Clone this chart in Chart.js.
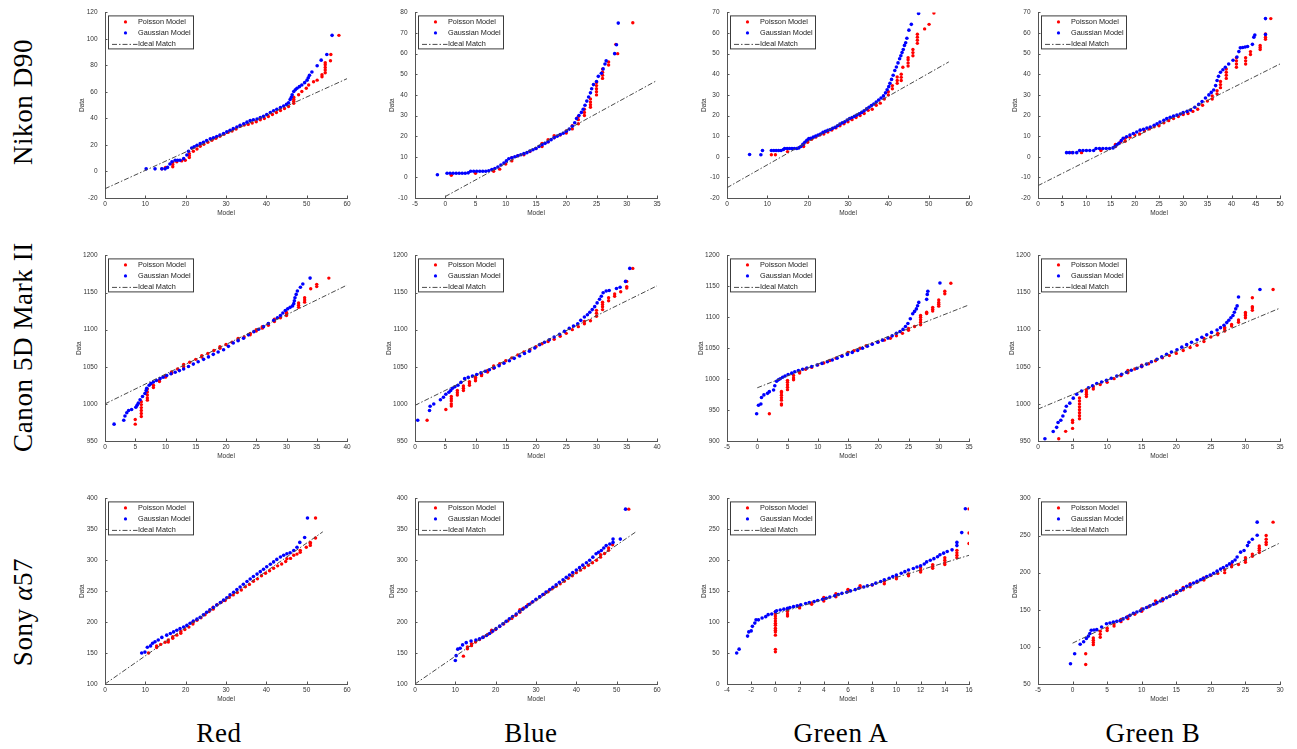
<!DOCTYPE html>
<html>
<head>
<meta charset="utf-8">
<script src="https://cdn.jsdelivr.net/npm/chart.js@4.4.1/dist/chart.umd.min.js"></script>
<style>
  body { margin: 0; background: #fff; width: 1297px; height: 749px; position: relative; overflow: hidden; }
  canvas { position: absolute; }
  .lab { position: absolute; font-family: "Liberation Serif", "Times New Roman", serif; font-size: 27px;
         letter-spacing: 0.6px; white-space: nowrap; color: #000; transform: translate(-50%, -50%); }
  .rot { transform: translate(-50%, -50%) rotate(-90deg); }
</style>
</head>
<body>
<script>
// ---- data: flat [x, y, x, y, ...] lists ----

// Nikon D90
const nikonRedPoisson = [14.1,2, 15,3, 16.8,3.6, 16.8,5.2, 16.8,6.8, 17.8,7.3, 19,8, 19.9,8.5, 20.9,10.5, 20.9,12, 20.9,13.5, 21.9,15.3, 22.8,17, 23.6,19, 24.5,20.5, 25.5,22, 26.5,23.5, 27.5,25, 28.5,26.5, 29.5,28, 30.5,29.5, 31.5,30.5, 32.5,32, 33.5,34, 34.5,35, 35.5,35.5, 36.5,36.5, 37.5,37.5, 38.5,39, 39.5,40, 40.5,41.5, 41.5,43, 42.5,44.5, 43.5,46, 44.5,47.5, 45.5,49, 46.8,51.5, 46.8,53, 46.8,54.5, 46.8,56, 48,57.9, 48.8,60.3, 49.9,62.8, 50.5,65.2, 51.7,67.7, 52.6,68.9, 53.8,71.5, 53.8,73, 54.6,74.5, 54.6,76.5, 54.6,78.5, 54.6,80.5, 54.6,82, 55.9,83.5, 56,88.3, 58,102.7];
const nikonRedGaussian = [10.2,2, 12.4,2, 14.1,2, 14.9,2, 15.5,3.1, 16.1,5.6, 16.6,7.3, 17.4,8.5, 18,8.5, 18.6,8.5, 19.5,9.7, 20.3,12.4, 20.7,15.3, 21.5,17.7, 22.1,18.6, 22.8,19.7, 23.6,21, 24.4,22.1, 25.2,23.4, 26.1,24.6, 26.9,25.5, 27.7,26.3, 28.5,27.5, 29.4,28.7, 30.2,29.9, 31,31.1, 31.8,32.3, 32.7,33.6, 33.5,34.8, 34.4,36, 35.2,37.2, 36,38.4, 36.8,39, 37.7,39.6, 38.5,40.6, 39.3,41.6, 40.1,43, 41,44.5, 41.8,45.8, 42.6,47, 43.5,48.2, 44.3,49.4, 45,50.6, 45.5,51.8, 45.9,54.3, 46.2,56, 46.4,57.9, 46.8,60.3, 47.2,61.6, 47.6,62.8, 48.2,64, 48.8,65.2, 49.5,67, 50.1,68.9, 50.4,70.7, 50.7,72.5, 51.3,75, 52.6,79.8, 53.6,84, 55,88.3, 56.3,102.7];
const nikonRedIdeal = [0,-13, 60,70];

const nikonBluePoisson = [1,1, 5,2, 8,3, 9,4, 10,6.5, 11,8, 11,9.5, 12,10.5, 13,11, 14,12.5, 15,14, 16,15, 16,16.5, 17,17.2, 17,18.3, 18,19.2, 18,20.2, 19,20.5, 20,21.5, 20,22.5, 21,23.5, 21,25, 22,26, 22,28, 22,29.5, 23,30, 23,31.5, 23,33, 24,34, 24,35.2, 24,36.5, 24,38, 25,40, 25,41.5, 25,43, 25,44.5, 25,46, 26,48, 26,49.5, 26,51, 26,52.5, 27,54.5, 27,56, 28.5,60, 28.2,64.5, 31,75];
const nikonBlueGaussian = [-1.3,1.3, 0.3,2, 0.8,2, 1.3,2, 1.8,2, 2.3,2, 2.8,2, 3.3,2, 3.8,2.2, 4.2,3, 4.7,3, 5.2,3, 5.7,3, 6.2,3, 6.7,3, 7.2,3.2, 7.7,3.8, 8.2,4.3, 8.7,5, 9.2,6, 9.7,7, 10.1,8, 10.5,9, 11,9.5, 11.5,10, 12,10.5, 12.5,11, 13,11.5, 13.5,12, 14,12.8, 14.5,13.4, 15,14, 15.5,15, 16,15.8, 16.5,16.5, 17,17.3, 17.5,18.3, 18,19.3, 18.5,20, 19,20.8, 19.5,21.4, 20,22.4, 20.5,23.4, 21,24.8, 21.4,26.5, 21.7,28.5, 22.1,30, 22.5,31.5, 22.8,33, 23.1,35, 23.4,37, 23.7,39, 24,41, 24.2,43, 24.5,45, 25,46.5, 25.3,49, 25.8,50.5, 26.1,52.6, 26.4,55, 26.6,56.5, 28,60, 28.3,64.3, 28.6,74.8];
const nikonBlueIdeal = [0,-9.3, 35,47];

const nikonGreenAPoisson = [11,1, 12,1, 15,2.5, 19,5, 19,6, 20,7, 20,8, 21,8.5, 22,9.5, 23,10.5, 24,11, 25,12, 26,13, 27,14, 28,15, 29,16, 30,17, 31,18, 32,19, 33,20, 34,21, 35,22.5, 36,23, 37,25, 38,26, 39,28, 40,30, 40,31.5, 41,33, 41,34.5, 42.2,35.6, 42.2,37, 42.2,38.7, 43.2,37, 43.2,38.5, 43.2,40, 43.6,43.4, 44.9,44, 44.9,45.5, 44.9,47, 44.9,48, 46.1,49, 46.1,50.5, 46.1,52, 47.2,55, 47.2,56.5, 47.2,58, 47.2,59.4, 49,62, 50.1,64.2, 51.3,69.7];
const nikonGreenAGaussian = [5.6,1.1, 8.4,1, 8.8,3, 11,3, 11.6,3, 12.2,3, 12.8,3, 13.4,3, 14,3.5, 14.3,4, 14.9,4, 15.5,4, 16.1,4, 16.7,4, 17.3,4, 17.8,4.3, 18.3,5, 18.8,6, 19.3,7, 19.8,8, 20.3,8.8, 20.8,9, 21.4,9.5, 22,10, 22.6,10.5, 23.2,11, 23.8,11.8, 24.4,12.3, 25,12.8, 25.6,13.2, 26.2,13.8, 26.8,14.3, 27.4,15, 28,15.8, 28.6,16.5, 29.2,17, 29.8,17.8, 30.4,18.5, 31,19, 31.6,19.6, 32.2,20.2, 32.8,20.8, 33.4,21.5, 34,22.3, 34.6,23.2, 35.2,24, 35.8,24.8, 36.4,25.6, 37,26.5, 37.6,27.5, 38.2,28.5, 38.8,29.5, 39.3,31, 39.7,32.5, 40.1,34, 40.4,35.6, 40.8,37.5, 41.2,39.5, 41.6,41.8, 42,43.5, 42.4,45.5, 42.8,47.5, 43.1,49, 43.4,50.5, 43.7,52, 44,54, 44.3,55.3, 44.6,57.5, 45.1,61.4, 45.7,64.2, 47.5,69.5];
const nikonGreenAIdeal = [0,-15, 55,46];

const nikonGreenBPoisson = [7,2, 9,2, 13,3, 16,5, 16,6, 17,7, 18,7.5, 18,9, 19,9.5, 20,10.5, 21,11, 22,12.5, 23,13.5, 24,14.5, 25,15, 26,16.5, 27,17.5, 28,18.5, 29,19.5, 30,20.5, 31,21, 32,22, 33,23, 34,25, 35,27, 36,28, 36,29.5, 37,30.5, 37,32, 37.7,33.5, 37.7,35, 37.7,36.5, 38.9,38, 38.9,39.5, 38.9,41, 38.9,42.5, 41,43.4, 41,45, 41,46.5, 41,48, 42.9,45, 42.9,46.5, 42.9,48, 43.9,49.6, 43.9,51, 45.9,52, 45.9,53, 45.9,54, 47,57, 47,58, 47,59.5, 48.1,67];
const nikonGreenBGaussian = [5.9,2, 6.5,2, 7.2,2, 8,2, 8.6,3, 9.3,3, 10,3, 10.7,3, 11.5,3, 12,4, 12.7,4, 13.4,4, 14.1,4, 14.8,4, 15.5,4.3, 15.9,5, 16.3,5.8, 16.7,6.5, 17.2,7.8, 17.6,9, 18.3,9.7, 19,10.5, 19.7,11.3, 20.4,12, 21.1,12.9, 21.8,13.3, 22.5,13.9, 23.2,14.4, 24,15.3, 24.6,16, 25.2,16.8, 26,17.7, 26.6,18.5, 27.3,19.1, 28,19.7, 28.7,20.2, 29.4,20.7, 30,21.4, 30.8,22, 31.5,22.7, 32.4,24, 33.2,25.4, 33.9,26.8, 34.6,28.5, 35.3,30, 35.8,31.2, 36.3,32.4, 36.7,34.5, 37,37, 37.3,39, 37.7,41, 38.2,42.2, 38.7,43.4, 39.4,45, 40.3,46.8, 41.1,48.4, 41.5,51, 41.8,52.8, 42.3,53, 42.8,53.2, 43.3,53.5, 44.3,54.5, 44.6,58, 44.8,59, 47,59.3, 47,67];
const nikonGreenBIdeal = [0,-14, 50,45];

// Canon 5D Mark II
const canonRedPoisson = [5,972.7, 5,979, 6,983, 6,987, 6,991, 6,995, 6,999, 6,1003, 7,1005, 7,1008, 7,1012, 7,1016, 7,1020, 8,1022, 8,1025, 9,1030, 9,1032, 10,1036, 10,1038, 11,1041, 11,1043, 12,1047, 13,1050, 13,1053, 14,1056, 15,1060, 16,1063, 16,1065, 17,1068, 18,1072, 19,1075, 19,1077, 20,1080, 21,1083, 22,1086, 22,1088, 23,1090, 24,1093, 24,1095, 25,1098, 25,1100, 26,1102, 26,1104, 27,1106, 27,1108, 28,1111, 28,1114, 29,1116, 30,1119, 30,1121, 30,1123, 32,1130, 32,1133, 32,1136, 33,1137, 33,1140, 33,1143, 34,1155, 35,1158, 35,1161, 37,1169.4];
const canonRedGaussian = [1.5,972.7, 3.1,978, 3.3,983.7, 3.6,988, 3.9,991, 4.4,992.4, 5.1,995.5, 5.3,998, 5.5,1001, 5.8,1005.5, 6.2,1010, 6.6,1014, 6.8,1018, 6.9,1021, 7.3,1025, 7.6,1027.5, 8,1029.5, 8.5,1031.5, 9.1,1034, 9.6,1036, 10.2,1038.3, 10.9,1040.5, 11.6,1042.7, 12.3,1044.8, 13,1047, 13.8,1050.3, 14.6,1053.6, 15.4,1056.8, 16.3,1060, 17.1,1063.3, 17.9,1066.7, 18.7,1069.8, 19.6,1073, 20.4,1077.5, 21.2,1082, 22,1085.2, 22.9,1088.5, 23.7,1093, 24.6,1097.3, 25.4,1100.6, 26.2,1104, 27,1108.3, 27.9,1112.6, 28.5,1116, 29,1119, 29.4,1122.5, 29.8,1125.7, 30.2,1128, 30.6,1130, 31,1132, 31.2,1135, 31.3,1139, 31.4,1143, 31.6,1147.5, 31.8,1152, 32.3,1157, 32.7,1161.5, 33.9,1169.4];
const canonRedIdeal = [0,1000, 40,1160];

const canonBluePoisson = [2,978, 5.1,992.4, 6,997, 6,1000, 6,1004, 6,1007, 6,1010, 7,1012, 7,1015, 7,1018, 8,1018, 8,1021, 8,1024, 9,1025, 9,1028, 9,1030, 10,1031, 10,1034, 10,1036, 11,1038, 11,1040, 12,1043, 12,1045, 13,1048, 13,1051, 14,1054, 15,1058, 16,1062, 17,1066, 18,1070, 19,1073, 20,1077, 21,1081, 22,1084, 23,1087, 24,1091, 25,1095, 26,1100, 27,1104, 28,1108, 28,1111, 29,1112, 30,1118, 30,1122, 30,1126, 31,1127, 31,1131, 31,1134, 31,1137, 32,1139, 32,1143, 33,1145, 33,1148, 34,1151, 35,1156, 35,1158, 35,1165, 36,1182.5];
const canonBlueGaussian = [0.45,978, 2.4,991, 2.5,996.8, 3.1,999.8, 4.2,1005.5, 4.7,1009, 5.1,1013, 5.6,1015.6, 5.9,1018, 6.2,1021, 6.6,1023, 7.1,1025, 7.6,1029, 8.2,1034, 8.8,1035.7, 9.5,1037.4, 10.2,1039.6, 10.9,1041.8, 11.6,1043.9, 12.3,1046, 13.1,1048.7, 13.9,1051.4, 14.7,1054.7, 15.6,1058, 16.4,1061.3, 17.3,1064.5, 18.1,1067.8, 18.9,1071, 19.8,1075.4, 20.6,1079.8, 21.4,1083.1, 22.2,1086.4, 23,1090, 23.9,1093.8, 24.7,1097.7, 25.5,1101.7, 26.2,1104.8, 26.9,1108, 27.4,1112.5, 28,1117, 28.5,1120, 28.9,1123.5, 29.3,1127, 29.7,1131, 30.1,1136, 30.5,1141, 30.8,1145, 31.1,1149.7, 31.6,1152, 32.1,1152.8, 33.3,1155.4, 33.9,1157, 34.8,1165, 35.5,1182.5];
const canonBlueIdeal = [0,998, 40,1159];

const canonGreenAPoisson = [2,944, 4,958, 4,960, 4,966, 4,970, 4,974, 4,978, 4,980, 5,983, 5,987, 5,991, 5,995, 5,998, 6,999, 6,1002, 6,1006, 7,1010, 7,1012, 8,1016, 9,1019, 10,1023, 11,1026, 12,1030, 13,1034, 14,1038, 15,1043, 16,1046, 17,1050, 18,1054, 19,1057, 20,1060, 21,1063, 22,1066, 23,1070, 24,1074, 25,1079, 25,1082, 26,1085, 27,1088, 27,1092, 27,1096, 27,1100, 27,1103, 28,1106, 28,1108, 29,1110, 29,1113, 29,1116, 30,1118, 30,1121, 30,1124, 30,1128, 31,1138, 31,1142, 32,1155];
const canonGreenAGaussian = [-0.1,944, 0.2,957.7, 0.6,959.8, 0.7,970.3, 1.1,974.5, 1.7,977, 2,979.8, 2.7,982.4, 2.9,989.2, 3.2,996.5, 3.5,999, 3.8,1000.7, 4.2,1003, 4.6,1005, 5.1,1007.5, 5.7,1009.7, 6.2,1012, 6.8,1014, 7.5,1016, 8.2,1018, 9,1020.4, 9.9,1022.8, 10.7,1025.4, 11.6,1028, 12.4,1030.9, 13.2,1033.8, 14,1036.9, 14.9,1040, 15.7,1043.2, 16.6,1046.4, 17.4,1049.8, 18.2,1053.2, 19,1056.3, 19.9,1059.5, 20.7,1063, 21.6,1066.3, 22.3,1070, 23,1074, 23.6,1077, 24.1,1080.4, 24.5,1085, 24.9,1090, 25.3,1097.7, 25.7,1105.6, 26,1109.5, 26.3,1113.5, 26.5,1118.5, 26.7,1124, 28,1129, 28.1,1137, 28.2,1142, 30.2,1155.4];
const canonGreenAIdeal = [0,986, 35,1120];

const canonGreenBPoisson = [3,953, 4,963, 5,967, 5,975, 5,978, 6,980, 6,984, 6,988, 6,992, 6,996, 6,1000, 6,1004, 6,1008, 7,1010, 7,1013, 7,1016, 7,1019, 8,1020, 8,1023, 9,1026, 10,1029, 11,1034, 12,1038, 13,1042, 13,1045, 14,1047, 15,1050, 15,1052, 16,1054, 17,1058, 18,1062, 19,1065, 20,1068, 21,1072, 22,1076, 23,1079, 24,1084, 24,1088, 25,1090, 26,1093, 26,1095, 27,1098, 27,1101, 27,1103, 28,1105, 28,1107, 29,1110, 29,1113, 30,1116, 30,1119, 30,1121, 30,1123, 31,1126, 31,1129, 31,1131, 31,1143, 34,1154];
const canonGreenBGaussian = [1,953, 2.2,962.7, 2.7,968.4, 2.9,975, 3.3,978, 3.6,983.7, 3.9,990.2, 4.1,996.8, 4.6,1001, 5.1,1007.7, 5.6,1013, 6.3,1017.3, 7.3,1021.7, 7.9,1024.5, 8.5,1027.4, 9.2,1029.5, 9.9,1031.7, 10.6,1034.5, 11.4,1037.4, 12.1,1040, 12.8,1042.7, 13.5,1045.3, 14.3,1048, 15,1050.8, 15.7,1053.6, 16.4,1056.8, 17.2,1060, 17.9,1063.3, 18.6,1066.7, 19.3,1069.8, 20.1,1073, 20.8,1076.4, 21.5,1079.8, 22.2,1083, 23,1086.4, 23.7,1089.7, 24.4,1093, 25.1,1096.3, 25.9,1099.5, 26.4,1102.7, 26.9,1106, 27.3,1109.5, 27.6,1112.6, 27.9,1116, 28.2,1119, 28.4,1123.5, 28.6,1128, 28.8,1132, 29,1144, 32.1,1154];
const canonGreenBIdeal = [0,993, 35,1129];

// Sony a57
const sonyRedPoisson = [10.8,150, 12.8,159, 12.8,161.6, 13.8,164, 14.9,167.4, 15.7,168, 15.7,171, 16.8,174, 16.8,176.3, 17.8,179, 18.8,182, 18.8,185, 19.8,188, 20.8,192, 21.8,197, 21.8,200, 22.8,203, 23.8,207, 24.8,212, 25.8,217, 26.8,221, 26.8,224, 27.8,228, 28.8,232, 29.8,235, 30.8,240, 31.8,244, 32.8,248, 33.8,252, 34.8,257, 35.8,261, 36.8,266, 37.8,270, 38.8,275, 39.8,279, 40.8,283, 41.8,287, 42.8,291, 43.8,294, 44.8,298, 45.1,302.6, 46,303, 46.8,308, 47.6,310, 48.4,313, 48.4,316, 49.9,321, 50.9,324, 50.9,327, 50.9,329, 52.2,336, 52.2,368.4];
const sonyRedGaussian = [9.1,150, 9.9,151.6, 10.5,159.5, 11.3,161.6, 11.8,165.8, 12.4,168.4, 13.2,171, 14.1,175.3, 15.3,179, 16.2,181.6, 17,184.2, 17.8,186.8, 18.6,189.5, 19.5,192.1, 20.3,194.7, 21.1,198.2, 21.9,201.6, 22.8,204.8, 23.6,207.9, 24.4,211.8, 25.2,215.8, 26,219.8, 26.9,223.7, 27.7,227.6, 28.6,231.6, 29.4,235.5, 30.2,239.5, 31,244, 31.9,248.4, 32.7,252.6, 33.5,256.8, 34.3,261.3, 35.2,265.8, 36,269.8, 36.8,273.7, 37.7,277.6, 38.5,281.6, 39.3,285.6, 40.1,289.5, 41,293.5, 41.8,297.4, 42.6,301.4, 43.5,305.3, 44.3,308, 45.1,310.5, 45.9,312.1, 46.8,315.8, 47.6,321, 48.3,328.9, 49.5,336.8, 50.2,368.4];
const sonyRedIdeal = [0,100, 54,346];

const sonyBluePoisson = [12,145, 13,157, 13,160, 14,162, 14,165, 15,168, 16,172, 17,176, 18,180, 19,184, 19,187, 20,188, 21,193, 22,197, 23,202, 24,206, 25,211, 26,216, 26,220, 27,223, 28,228, 29,232, 30,236, 31,241, 32,245, 33,249, 34,254, 35,258, 36,262, 37,266, 38,271, 39,275, 40,280, 41,284, 42,288, 43,292, 44,296, 45,300, 46,305, 46,309, 47,311, 48,316, 48,320, 49,325, 53,382.6];
const sonyBlueGaussian = [10,137.9, 10.2,145.8, 10.6,156.3, 11.2,157.9, 11.8,163.2, 12.7,166.8, 13.9,169.5, 15.1,171, 16,173, 16.8,175.3, 17.7,178.5, 18.5,181.6, 19.3,185.5, 20.1,189.5, 21,193.5, 21.8,197.4, 22.6,201.3, 23.4,205.3, 24.2,209.2, 25.1,213.2, 25.9,217.1, 26.7,221, 27.6,225, 28.4,229, 29.2,232.9, 30,236.8, 30.9,240.8, 31.7,244.7, 32.5,248.7, 33.4,252.6, 34.2,256.5, 35,260.5, 35.8,264.5, 36.7,268.4, 37.5,272.4, 38.3,276.3, 39.1,280.2, 40,284.2, 40.8,288.1, 41.6,292.1, 42.5,296, 43.3,300, 44.1,305, 44.9,310.5, 45.5,313, 46.2,315.8, 46.8,319.8, 47.4,323.7, 48.3,326.3, 49.1,328.9, 49.1,334.2, 50.9,334.2, 52.2,382.6];
const sonyBlueIdeal = [0,100, 55,347];

const sonyGreenAPoisson = [0,52, 0,56, 0,79, 0,84, 0,87, 0,90, 0,95, 0,98, 0,102, 0,106, 0,110, 0,114, 0,117, 1,110, 1,113, 1,117, 1,120, 2,123, 2,126, 3,129, 3,131, 4,134, 4,137, 4,140, 5,141, 5,146, 6,150, 6,153, 7,156, 7,159, 8,160, 9,162, 9,166, 10,170, 10,173, 11,175, 11,178, 12,181, 12,184, 12,188, 13,187, 13,190, 13,193, 14,193, 14,196, 14,200, 14,204, 15,204, 15,208, 15,212, 15,216, 16,227, 16,244, 16,283];
const sonyGreenAGaussian = [-3.2,50, -3,56.3, -2.3,77.4, -2.2,84.2, -2,85.8, -1.9,93.2, -1.7,98.4, -1.6,103.7, -1.4,103.7, -1.1,106.8, -0.8,108.9, -0.6,112.1, -0.3,113.2, 0,116.8, 0.1,118.4, 0.4,119.7, 0.7,121, 1,122.3, 1.2,123.7, 1.5,125, 1.8,126.3, 2.1,128, 2.5,130, 2.8,131.6, 3.2,133.2, 3.5,135, 3.9,136.8, 4.2,138.6, 4.5,140.5, 4.9,142.6, 5.2,144.7, 5.5,146.5, 5.9,148.4, 6.2,150.5, 6.6,152.6, 6.9,154.7, 7.3,156.8, 7.6,158.6, 8,160.5, 8.3,163, 8.7,165.8, 9,168.4, 9.4,171, 9.7,173.6, 10,176.3, 10.4,179, 10.7,181.6, 11,184.2, 11.4,186.8, 11.7,189, 12,191, 12.3,194, 12.5,197.4, 12.8,200, 13.1,202.6, 13.4,205.8, 13.6,208.9, 13.9,211.5, 14.2,214.2, 14.6,216.8, 15,223.7, 15,228.9, 15.4,244.7, 15.7,283.2];
const sonyGreenAIdeal = [0,113, 16,208];

const sonyGreenBPoisson = [1.9,76.3, 1.9,90.8, 3,103, 3,106, 3,109, 3,112, 4,113, 4,117, 4,121, 5,122, 5,125, 6,128, 6,131, 7,134, 7,137, 8,138, 8,141, 9,144, 10,148, 10,151, 11,154, 12,158, 12,162, 13,162, 13,165, 14,168, 15,172, 15,175, 16,177, 16,180, 17,181, 17,185, 18,187, 19,190, 19,193, 20,196, 21,199, 22,200, 22,204, 23,208, 23,211, 24,211, 25,214, 25,217, 25,220, 26,222, 26,225, 27,227, 27,230, 27,233, 27,236, 28,238, 28,241, 28,245, 28,250, 29,268];
const sonyGreenBGaussian = [-0.3,77.2, 0.3,90.8, 1.1,103.5, 1.6,107, 2,111.4, 2.3,114.5, 2.5,118, 2.7,122.4, 3.1,122.8, 3.5,123.2, 4.2,126.8, 4.9,131.1, 5.4,132.2, 5.9,133.3, 6.4,134.4, 6.9,135.5, 7.3,137.7, 7.8,139.9, 8.3,142.5, 8.8,145.2, 9.3,147, 9.8,148.7, 10.2,151, 10.7,153.1, 11.2,155.3, 11.7,157.5, 12.2,159.6, 12.7,161.8, 13.1,164, 13.6,166.2, 14.1,168.4, 14.6,170.6, 15.1,173.2, 15.6,175.9, 16,178.7, 16.5,181.6, 17,183.8, 17.5,186, 18,188.2, 18.5,190.4, 18.9,192.5, 19.4,194.7, 19.9,196.9, 20.4,199.1, 20.9,202, 21.4,204.8, 21.8,207, 22.3,209.2, 22.7,211.8, 23.1,214.5, 23.5,217, 23.8,221, 24.3,227.6, 24.8,229.8, 25.3,236.4, 25.5,240.8, 26,245, 26.7,250.4, 26.7,268];
const sonyGreenBIdeal = [0,105, 30,240];

// axis limits [min, max, step], row-major order
const xLimits = [[0,60,10], [-5,35,5], [0,60,10], [0,50,5],
                 [0,40,5],  [0,40,5],  [-5,35,5], [0,35,5],
                 [0,60,10], [0,60,10], [-4,16,2], [-5,30,5]];
const yLimits = [[-20,120,20], [-10,80,10], [-20,70,10], [-20,70,10],
                 [950,1200,50], [950,1200,50], [900,1200,50], [950,1200,50],
                 [100,400,50], [100,400,50], [0,300,50], [50,300,50]];

const rowLabels = ['Nikon D90', 'Canon 5D Mark II', 'Sony <i>α</i>57'];
const colLabels = ['Red', 'Blue', 'Green A', 'Green B'];
const legendLabels = ['Poisson Model', 'Gaussian Model', 'Ideal Match'];

const panels = [
  [nikonRedPoisson, nikonRedGaussian, nikonRedIdeal],
  [nikonBluePoisson, nikonBlueGaussian, nikonBlueIdeal],
  [nikonGreenAPoisson, nikonGreenAGaussian, nikonGreenAIdeal],
  [nikonGreenBPoisson, nikonGreenBGaussian, nikonGreenBIdeal],
  [canonRedPoisson, canonRedGaussian, canonRedIdeal],
  [canonBluePoisson, canonBlueGaussian, canonBlueIdeal],
  [canonGreenAPoisson, canonGreenAGaussian, canonGreenAIdeal],
  [canonGreenBPoisson, canonGreenBGaussian, canonGreenBIdeal],
  [sonyRedPoisson, sonyRedGaussian, sonyRedIdeal],
  [sonyBluePoisson, sonyBlueGaussian, sonyBlueIdeal],
  [sonyGreenAPoisson, sonyGreenAGaussian, sonyGreenAIdeal],
  [sonyGreenBPoisson, sonyGreenBGaussian, sonyGreenBIdeal]
];

// ---- layout ----
const axisLeft = [105, 415, 727, 1038];
const axisTop = [7, 250, 493];
const plotW = 242, plotH = 191;
const yAxisW = 40, xAxisH = 19, padTop = 6, padRight = 10;
const axisColor = '#555';
const textColor = '#333';
const dashDot = [5, 2, 1.5, 2];

function pairs(a) {
  const out = [];
  for (let i = 0; i < a.length; i += 2) out.push({ x: a[i], y: a[i + 1] });
  return out;
}

// MATLAB style ticks pointing into the axes
const inwardTicks = {
  id: 'inwardTicks',
  afterDatasetsDraw(chart) {
    const { ctx, chartArea: a, scales: { x, y } } = chart;
    ctx.save();
    ctx.strokeStyle = axisColor;
    ctx.lineWidth = 1;
    ctx.beginPath();
    x.ticks.forEach(t => {
      const px = Math.round(x.getPixelForValue(t.value)) + 0.5;
      ctx.moveTo(px, a.bottom); ctx.lineTo(px, a.bottom - 2.5);
    });
    y.ticks.forEach(t => {
      const py = Math.round(y.getPixelForValue(t.value)) + 0.5;
      ctx.moveTo(a.left, py); ctx.lineTo(a.left + 2.5, py);
    });
    ctx.stroke();
    ctx.restore();
  }
};

// boxed legend in the top-left corner of the axes
const boxLegend = {
  id: 'boxLegend',
  afterDraw(chart) {
    const { ctx, chartArea: a } = chart;
    const bx = a.left + 3.5, by = a.top + 3.5, bw = 85, bh = 33;
    ctx.save();
    ctx.fillStyle = '#fff';
    ctx.fillRect(bx, by, bw, bh);
    ctx.strokeStyle = '#3c3c3c';
    ctx.lineWidth = 1;
    ctx.strokeRect(bx, by, bw, bh);
    const rows = [by + 6, by + 17, by + 28];
    ctx.fillStyle = '#ff0000';
    ctx.beginPath(); ctx.arc(bx + 17, rows[0], 1.6, 0, Math.PI * 2); ctx.fill();
    ctx.fillStyle = '#0000ff';
    ctx.beginPath(); ctx.arc(bx + 17, rows[1], 1.6, 0, Math.PI * 2); ctx.fill();
    ctx.strokeStyle = '#4a4a4a';
    ctx.setLineDash(dashDot);
    ctx.beginPath(); ctx.moveTo(bx + 3.5, rows[2] + 0.5); ctx.lineTo(bx + 29, rows[2] + 0.5); ctx.stroke();
    ctx.setLineDash([]);
    ctx.fillStyle = '#222';
    ctx.font = '7.3px "Liberation Sans", Arial, sans-serif';
    ctx.textBaseline = 'middle';
    legendLabels.forEach((t, i) => ctx.fillText(t, bx + 29.5, rows[i]));
    ctx.restore();
  }
};

const tickFont = { family: '"Liberation Sans", Arial, sans-serif', size: 6.5 };

panels.forEach((pd, k) => {
  const r = Math.floor(k / 4), c = k % 4;
  const cv = document.createElement('canvas');
  const w = yAxisW + plotW + padRight, h = padTop + plotH + xAxisH;
  cv.width = w; cv.height = h;
  cv.style.left = (axisLeft[c] - yAxisW) + 'px';
  cv.style.top = (axisTop[r] - padTop) + 'px';
  cv.style.width = w + 'px'; cv.style.height = h + 'px';
  document.body.appendChild(cv);

  const [xmin, xmax, xstep] = xLimits[k];
  const [ymin, ymax, ystep] = yLimits[k];
  const yTitlePad = r === 1 ? 10.4 : 13.8;

  new Chart(cv, {
    type: 'scatter',
    data: {
      datasets: [
        { label: legendLabels[2], data: pairs(pd[2]), showLine: true, pointRadius: 0,
          borderColor: '#4a4a4a', borderWidth: 1, borderDash: dashDot, order: 0 },
        { label: legendLabels[1], data: pairs(pd[1]), pointRadius: 1.8, borderWidth: 0,
          backgroundColor: '#0000ff', order: 1 },
        { label: legendLabels[0], data: pairs(pd[0]), pointRadius: 1.7, borderWidth: 0,
          backgroundColor: '#ff0000', order: 2 }
      ]
    },
    options: {
      responsive: false,
      animation: false,
      events: [],
      layout: { padding: { top: padTop, right: padRight, left: 0, bottom: 0 } },
      plugins: { legend: { display: false }, tooltip: { enabled: false } },
      scales: {
        x: {
          type: 'linear', min: xmin, max: xmax,
          grid: { display: false, drawTicks: false },
          border: { display: true, color: axisColor, width: 1 },
          ticks: { stepSize: xstep, font: tickFont, color: textColor, padding: 2,
                   maxRotation: 0, autoSkip: false, callback: v => String(v) },
          title: { display: true, text: 'Model', color: textColor,
                   font: { family: tickFont.family, size: 6.5 }, padding: { top: 0, bottom: 0 } },
          afterFit: s => { s.height = xAxisH; }
        },
        y: {
          type: 'linear', min: ymin, max: ymax,
          grid: { display: false, drawTicks: false },
          border: { display: true, color: axisColor, width: 1 },
          ticks: { stepSize: ystep, font: tickFont, color: textColor, padding: 7.5,
                   autoSkip: false, callback: v => String(v) },
          title: { display: true, text: 'Data', color: textColor,
                   font: { family: tickFont.family, size: 6.5 }, padding: { top: yTitlePad, bottom: 0 } },
          afterFit: s => { s.width = yAxisW; }
        }
      }
    },
    plugins: [inwardTicks, boxLegend]
  });
});

// row and column captions
const rowCenters = [[23, 102], [23, 347], [23, 612]];
const colCenters = [[219, 733], [531, 733], [841, 733], [1153, 733]];
rowLabels.forEach((t, i) => {
  const d = document.createElement('div');
  d.className = 'lab rot';
  d.innerHTML = t;
  d.style.left = rowCenters[i][0] + 'px';
  d.style.top = rowCenters[i][1] + 'px';
  document.body.appendChild(d);
});
colLabels.forEach((t, i) => {
  const d = document.createElement('div');
  d.className = 'lab';
  d.textContent = t;
  d.style.left = colCenters[i][0] + 'px';
  d.style.top = colCenters[i][1] + 'px';
  document.body.appendChild(d);
});
</script>
</body>
</html>
